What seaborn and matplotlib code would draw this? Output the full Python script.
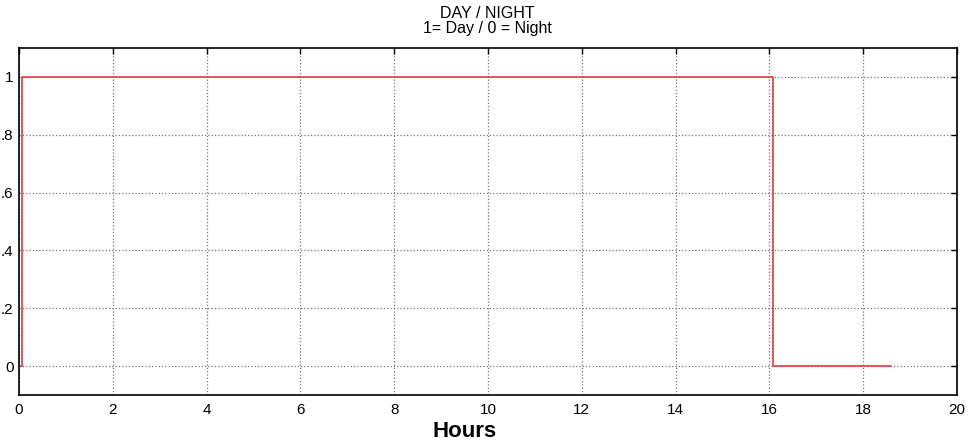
import numpy as np
import pandas as pd
import matplotlib
matplotlib.use('Agg')
import matplotlib.pyplot as plt
import seaborn as sns

# 데이터 (시간, 주야 상태)
hours = [0.0, 0.06, 16.08, 18.6]
day_night = [0, 1, 0, 0]
xticks = [0, 2, 4, 6, 8, 10, 12, 14, 16, 18, 20]
yticks = [0, 0.2, 0.4, 0.6, 0.8, 1.0]
ytick_labels = ['0', '.2', '.4', '.6', '.8', '1']

df = pd.DataFrame({'hours': hours, 'state': day_night})

sns.set_style('white')
plt.rcParams['font.family'] = ['Liberation Sans', 'DejaVu Sans']
plt.rcParams['text.color'] = 'black'
plt.rcParams['xtick.color'] = 'black'
plt.rcParams['ytick.color'] = 'black'
plt.rcParams['axes.labelcolor'] = 'black'

fig = plt.figure(figsize=(9.71, 4.41), dpi=100)
ax = fig.add_axes([19/971, 1 - 395/441, (957-19)/971, (395-48)/441])

sns.lineplot(data=df, x='hours', y='state', ax=ax, color='#e8494b',
             linewidth=1.3, drawstyle='steps-post', estimator=None, sort=False)

ax.set_xlim(0, 20)
ax.set_ylim(-0.1, 1.1)
ax.set_xticks(xticks)
ax.set_xticklabels([str(t) for t in xticks], fontsize=11)
ax.set_yticks(yticks)
ax.set_yticklabels(ytick_labels, fontsize=11)
ax.tick_params(direction='in', top=True, right=True, length=4, width=1, pad=6)
ax.tick_params(axis='y', pad=4)
ax.grid(True, color='#777777', linestyle=':', linewidth=0.9)
for s in ax.spines.values():
    s.set_color('black')
    s.set_linewidth(1.2)

ax.set_xlabel('Hours', fontsize=16, fontweight='bold', labelpad=0)
ax.xaxis.set_label_coords((465-19)/938, -0.075)
ax.set_ylabel('')
fig.text(0.5016, 1 - 14/441, 'DAY / NIGHT', ha='center', va='center', fontsize=11.5)
fig.text(0.5016, 1 - 28/441, '1= Day / 0 = Night', ha='center', va='center', fontsize=11.5)

fig.savefig('out.png', dpi=100)
